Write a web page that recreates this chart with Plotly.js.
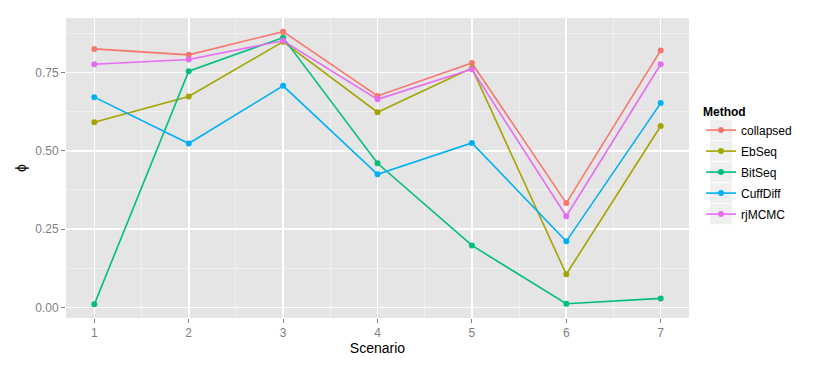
<!DOCTYPE html>
<html><head><meta charset="utf-8">
<script src="https://cdn.plot.ly/plotly-3.0.1.min.js"></script>
<style>body{margin:0;background:#fff}#chart{width:822px;height:366px}</style>
</head><body><div id="chart"></div>
<script>
const scenarios = [1, 2, 3, 4, 5, 6, 7];
const methods = ["collapsed", "EbSeq", "BitSeq", "CuffDiff", "rjMCMC"];
const collapsed = [0.825, 0.806, 0.880, 0.675, 0.780, 0.333, 0.820];
const ebseq     = [0.591, 0.673, 0.848, 0.623, 0.764, 0.106, 0.579];
const bitseq    = [0.010, 0.754, 0.861, 0.460, 0.198, 0.012, 0.029];
const cuffdiff  = [0.671, 0.523, 0.707, 0.425, 0.525, 0.211, 0.652];
const rjmcmc    = [0.776, 0.791, 0.851, 0.664, 0.760, 0.291, 0.776];
const yTicks = [0, 0.25, 0.5, 0.75];
const yTickLabels = ["0.00", "0.25", "0.50", "0.75"];

const seriesValues = [collapsed, ebseq, bitseq, cuffdiff, rjmcmc];
const colors = ["#F8766D", "#A3A500", "#00BF7D", "#00B0F6", "#E76BF3"];

const traces = methods.map((m, i) => ({
  x: scenarios, y: seriesValues[i], name: m, legendgroup: m, type: "scatter", mode: "lines+markers",
  line: {color: colors[i], width: 1.6}, marker: {color: colors[i], size: 6}
}));

const font = "Liberation Sans, Arial, sans-serif";

const layout = {
  width: 822, height: 366,
  margin: {l: 66, r: 133, t: 18, b: 48},
  paper_bgcolor: "#FFFFFF", plot_bgcolor: "#E5E5E5",
  font: {family: font, size: 12, color: "#7F7F7F"},
  xaxis: {
    range: [0.7, 7.3], tickvals: scenarios, ticktext: scenarios.map(String),
    showgrid: true, gridcolor: "#FFFFFF", gridwidth: 1.6,
    minor: {dtick: 0.5, tick0: 0.5, showgrid: true, gridcolor: "#F2F2F2", gridwidth: 0.8, ticklen: 0},
    ticks: "outside", ticklen: 4, tickcolor: "#7F7F7F", zeroline: false,
    tickfont: {size: 12, color: "#7F7F7F"},
    title: {text: "Scenario", font: {size: 14, color: "#000"}, standoff: 3}
  },
  yaxis: {
    range: [-0.0335, 0.9235], tickvals: yTicks, ticktext: yTickLabels,
    showgrid: true, gridcolor: "#FFFFFF", gridwidth: 1.6,
    minor: {tickvals: [0.125, 0.375, 0.625, 0.875], showgrid: true, gridcolor: "#F2F2F2", gridwidth: 0.8, ticklen: 0},
    ticks: "outside", ticklen: 4, tickcolor: "#7F7F7F", zeroline: false,
    tickfont: {size: 12, color: "#7F7F7F"},
    title: {text: "ϕ", font: {size: 14, color: "#000"}, standoff: 5}
  },
  showlegend: true,
  legend: {
    xref: "container", yref: "container",
    x: 701 / 822, y: 1 - 100 / 366, xanchor: "left", yanchor: "top",
    bgcolor: "rgba(0,0,0,0)", font: {size: 12, color: "#000"},
    title: {text: "<b>Method</b>", font: {size: 12, color: "#000"}},
    itemwidth: 30, tracegroupgap: 2
  }
};
Plotly.newPlot("chart", traces, layout, {displayModeBar: false, staticPlot: true}).then(gd => {
  const legendItems = gd.querySelectorAll(".legend .traces");
  const chartBox = gd.getBoundingClientRect();
  const fs = gd._fullLayout._size;
  const shapes = [];
  legendItems.forEach(el => {
    const pt = el.querySelector(".legendpoints path") || el.querySelector(".legendlines path");
    if (!pt) return;
    const b = pt.getBoundingClientRect();
    const cx = b.left + b.width / 2 - chartBox.left;
    const cy = b.top + b.height / 2 - chartBox.top;
    shapes.push({
      type: "rect", xref: "paper", yref: "paper", layer: "below",
      x0: (cx - 11 - fs.l) / fs.w, x1: (cx + 11 - fs.l) / fs.w,
      y0: 1 - (cy + 10 - fs.t) / fs.h, y1: 1 - (cy - 10 - fs.t) / fs.h,
      fillcolor: "#EFEFEF", line: {width: 0}
    });
  });
  Plotly.relayout(gd, {shapes: shapes});
});
</script></body></html>
